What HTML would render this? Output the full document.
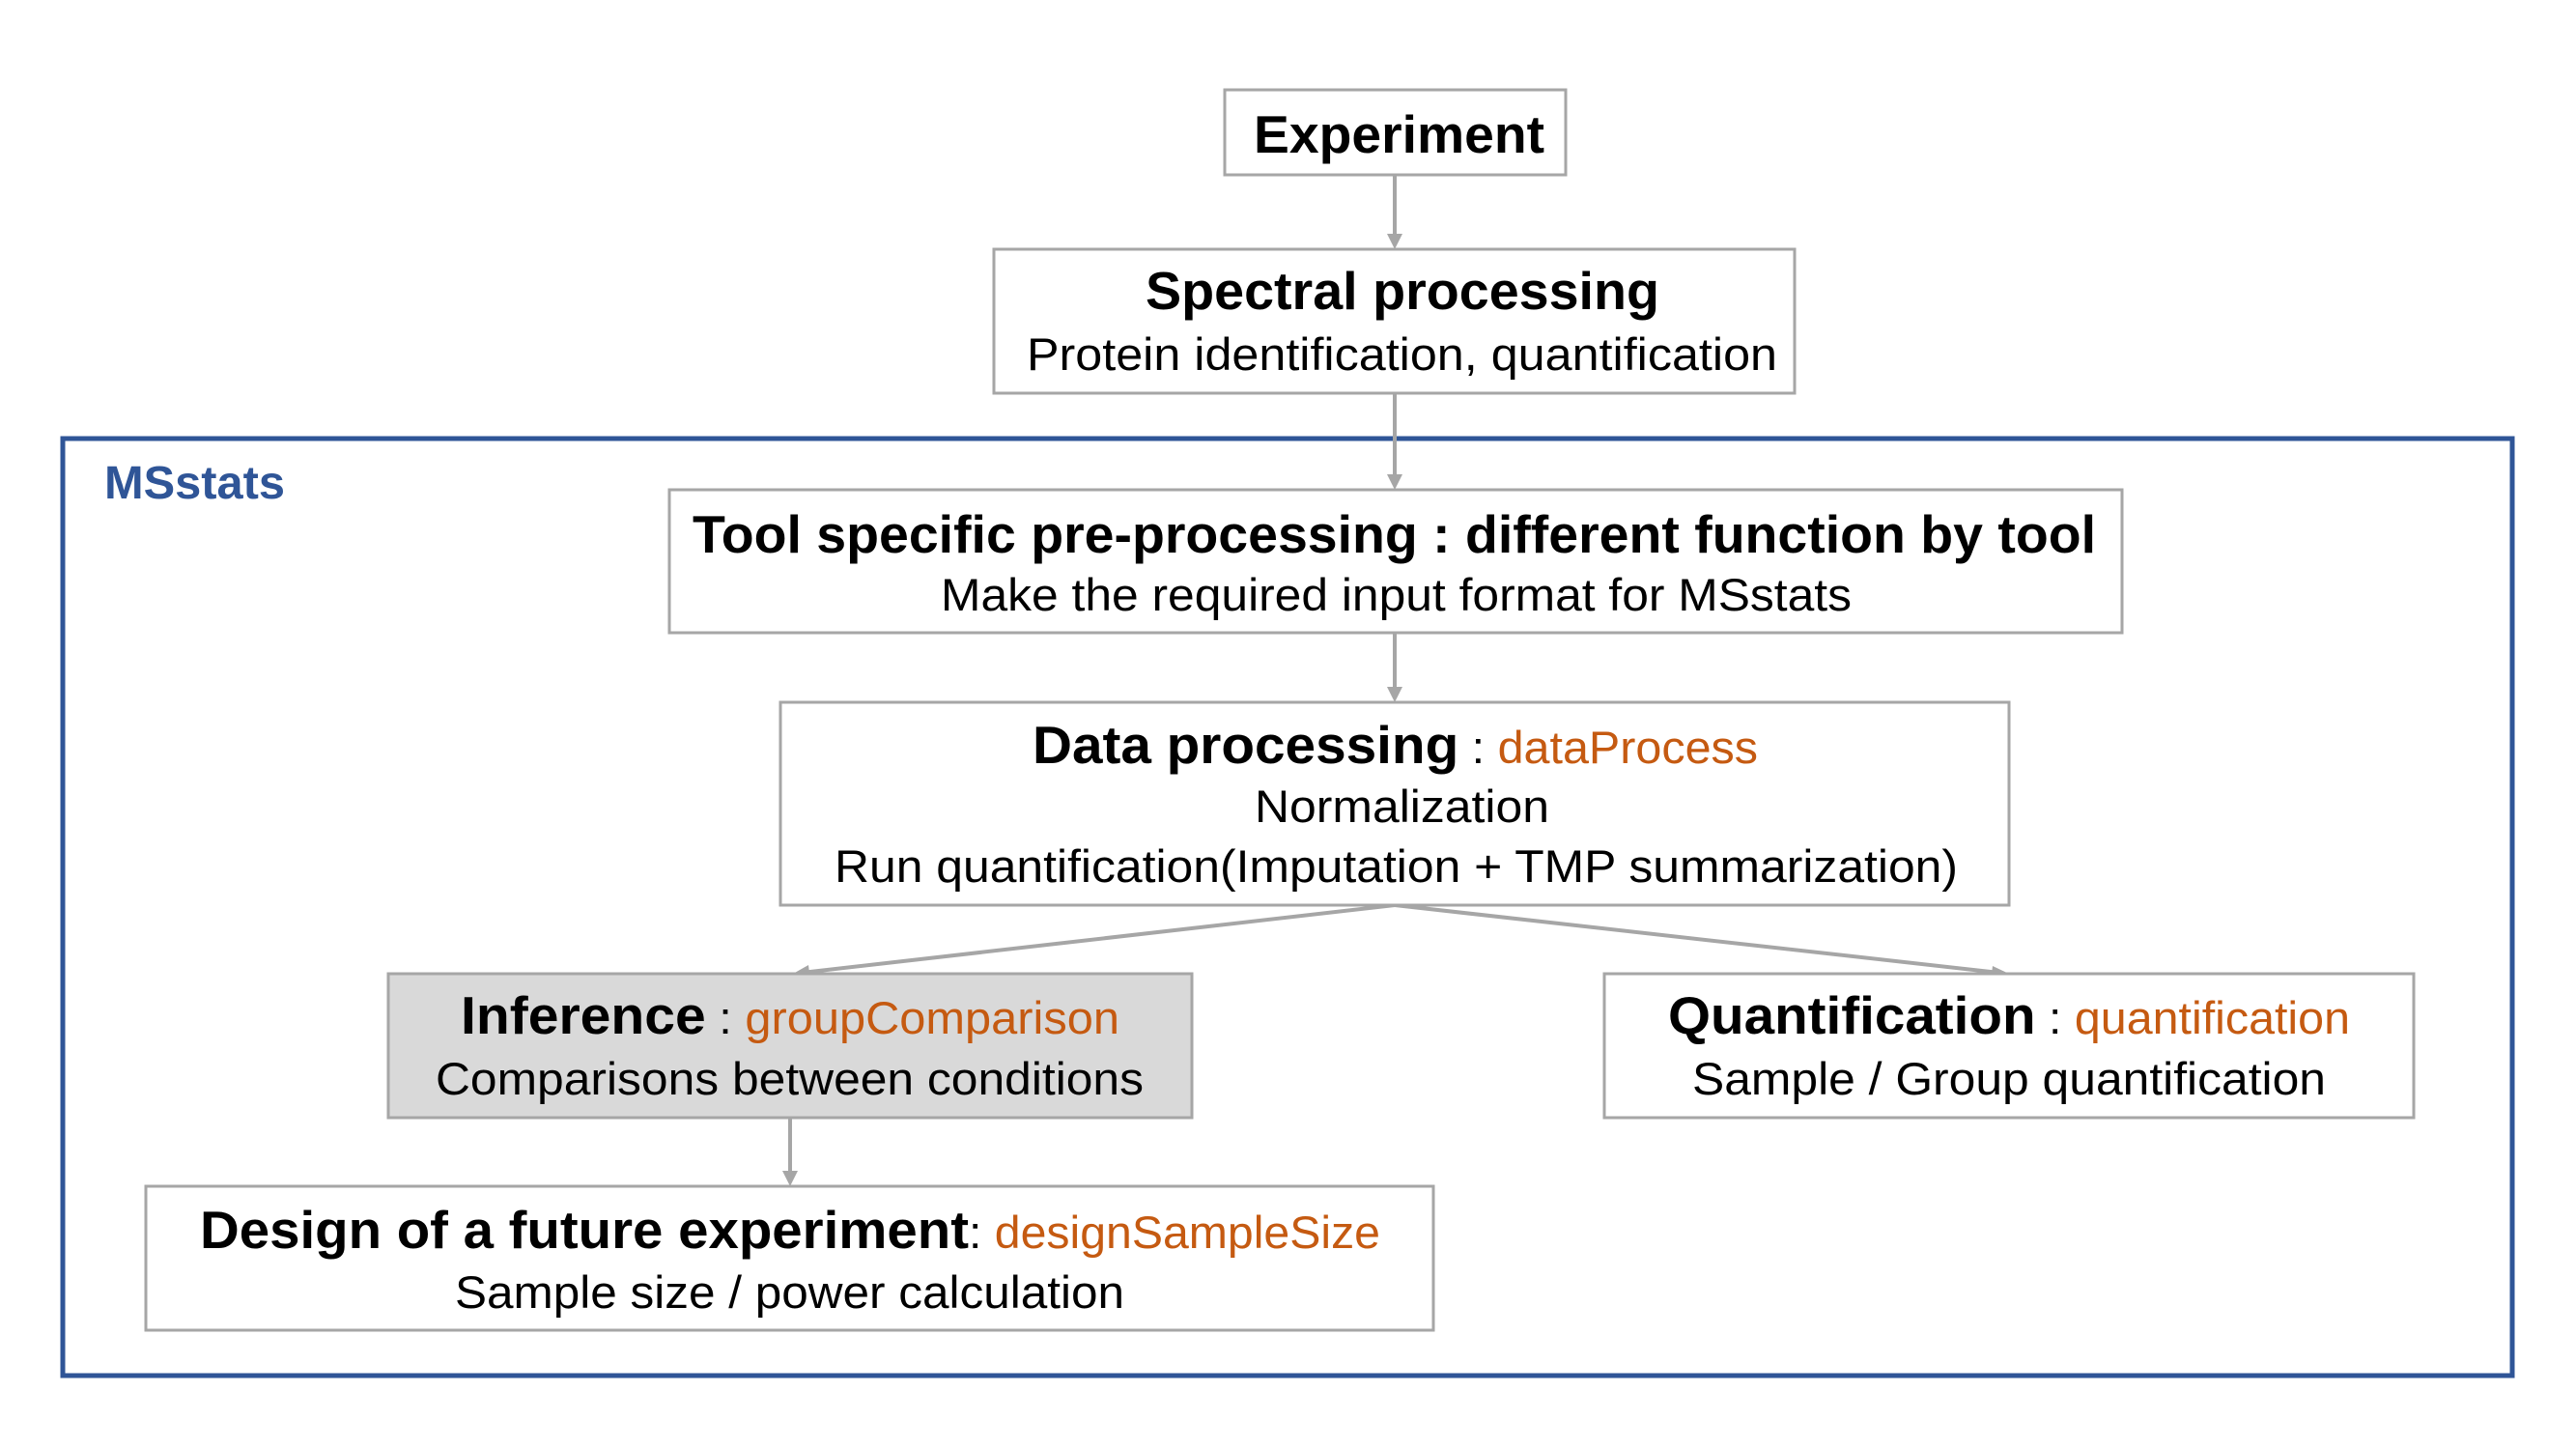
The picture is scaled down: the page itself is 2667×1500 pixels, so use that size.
<!DOCTYPE html>
<html><head><meta charset="utf-8"><style>html,body{margin:0;padding:0;background:#fff}svg{display:block}</style></head>
<body>
<svg width="2667" height="1500" viewBox="0 0 2667 1500" xmlns="http://www.w3.org/2000/svg" font-family="Liberation Sans, Arial, sans-serif">
<rect x="0" y="0" width="2667" height="1500" fill="#fff"/>
<rect x="65" y="454" width="2536" height="970" fill="none" stroke="#2f5597" stroke-width="5"/>
<text x="108" y="516" font-size="48" font-weight="bold" fill="#2f5597" textLength="187" lengthAdjust="spacingAndGlyphs">MSstats</text>

<g stroke="#a6a6a6" stroke-width="4" fill="none">
<line x1="1444" y1="181" x2="1444" y2="248"/>
<line x1="1444" y1="407" x2="1444" y2="497"/>
<line x1="1444" y1="655" x2="1444" y2="717"/>
<line x1="1444" y1="937" x2="830" y2="1007"/>
<line x1="1444" y1="937" x2="2070" y2="1007"/>
<line x1="818" y1="1157" x2="818" y2="1218"/>
</g>
<g fill="#a6a6a6">
<polygon points="1436,242 1452,242 1444,258"/>
<polygon points="1436,491 1452,491 1444,507"/>
<polygon points="1436,711 1452,711 1444,727"/>
<polygon points="810,1212 826,1212 818,1228"/>
<polygon points="821,1008 837,999 839,1015"/>
<polygon points="2080,1008 2063,1000 2061,1016"/>
</g>

<g stroke="#a6a6a6" stroke-width="3" fill="#fff">
<rect x="1268" y="93" width="353" height="88"/>
<rect x="1029" y="258" width="829" height="149"/>
<rect x="693" y="507" width="1504" height="148"/>
<rect x="808" y="727" width="1272" height="210"/>
<rect x="402" y="1008" width="832" height="149" fill="#d9d9d9"/>
<rect x="1661" y="1008" width="838" height="149"/>
<rect x="151" y="1228" width="1333" height="149"/>
</g>

<g fill="#000">
<text x="1298" y="158" font-size="55" font-weight="bold" textLength="301" lengthAdjust="spacingAndGlyphs">Experiment</text>
<text x="1186" y="320" font-size="55" font-weight="bold" textLength="532" lengthAdjust="spacingAndGlyphs">Spectral processing</text>
<text x="1063" y="383" font-size="47" textLength="777" lengthAdjust="spacingAndGlyphs">Protein identification, quantification</text>
<text x="717" y="572" font-size="55" font-weight="bold" textLength="1453" lengthAdjust="spacingAndGlyphs">Tool specific pre-processing : different function by tool</text>
<text x="974" y="632" font-size="47" textLength="943" lengthAdjust="spacingAndGlyphs">Make the required input format for MSstats</text>
<text x="1069" y="790" font-size="55" textLength="751" lengthAdjust="spacingAndGlyphs"><tspan font-weight="bold">Data processing</tspan><tspan font-size="47"> : </tspan><tspan font-size="47" fill="#c55a11">dataProcess</tspan></text>
<text x="1299" y="851" font-size="47" textLength="305" lengthAdjust="spacingAndGlyphs">Normalization</text>
<text x="864" y="913" font-size="47" textLength="1163" lengthAdjust="spacingAndGlyphs">Run quantification(Imputation + TMP summarization)</text>
<text x="477" y="1070" font-size="55" textLength="682" lengthAdjust="spacingAndGlyphs"><tspan font-weight="bold">Inference</tspan><tspan font-size="47"> : </tspan><tspan font-size="47" fill="#c55a11">groupComparison</tspan></text>
<text x="451" y="1133" font-size="47" textLength="733" lengthAdjust="spacingAndGlyphs">Comparisons between conditions</text>
<text x="1727" y="1070" font-size="55" textLength="706" lengthAdjust="spacingAndGlyphs"><tspan font-weight="bold">Quantification</tspan><tspan font-size="47"> : </tspan><tspan font-size="47" fill="#c55a11">quantification</tspan></text>
<text x="1752" y="1133" font-size="47" textLength="656" lengthAdjust="spacingAndGlyphs">Sample / Group quantification</text>
<text x="207" y="1292" font-size="55" textLength="1222" lengthAdjust="spacingAndGlyphs"><tspan font-weight="bold">Design of a future experiment</tspan><tspan font-size="47">: </tspan><tspan font-size="47" fill="#c55a11">designSampleSize</tspan></text>
<text x="471" y="1354" font-size="47" textLength="693" lengthAdjust="spacingAndGlyphs">Sample size / power calculation</text>
</g>
</svg>
</body></html>
